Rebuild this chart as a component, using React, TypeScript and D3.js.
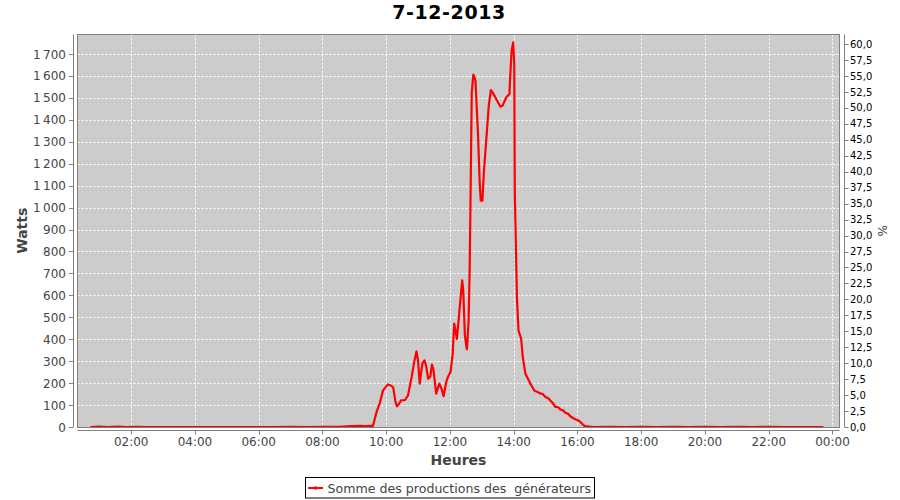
import React from "react";
import * as d3 from "d3";

const title = "7-12-2013";
const seriesName = "Somme des productions des  générateurs";
const xLabel = "Heures";
const yLabel = "Watts";
const y2Label = "%";

const times = [
  "00:43","01:00","01:15","01:35","01:50","02:10","02:30","03:00","03:30","04:00","04:30","05:00","05:30","06:00","06:30","07:00","07:30","08:00","08:30","08:55","09:10","09:20","09:30","09:35",
  "09:42","09:48","09:54","10:00","10:03","10:08","10:13","10:17","10:20","10:24","10:28","10:35","10:41","10:48","10:53","10:57","11:00","11:03","11:08","11:12","11:15","11:19","11:23","11:26","11:29","11:34","11:40","11:44","11:48","11:53","11:56",
  "12:01","12:05","12:08","12:13","12:16","12:20","12:23","12:25","12:28","12:31","12:32","12:35","12:37","12:38","12:41","12:44","12:46","12:48","12:53","12:56","12:58",
  "13:01","13:04","13:08","13:13","13:17","13:22","13:27","13:35","13:39","13:46","13:52","13:53","13:56","13:59",
  "14:01","14:02","14:05","14:06","14:09","14:14","14:17","14:22","14:31","14:39","14:44","14:50","14:55","14:59","15:05","15:08","15:15","15:18","15:24","15:27","15:34","15:37","15:43","15:46","15:52","15:56","16:02","16:05","16:11","16:14",
  "16:30","17:00","17:30","18:00","18:30","19:00","19:30","20:00","20:30","21:00","21:30","22:00","22:30","23:00","23:30","23:43"
];
const watts = [
  0,2,0,2,0,1,0,0,0,0,0,0,0,0,0,1,0,1,1,4,5,4,5,5,
  70,110,167,185,194,190,182,120,94,105,122,122,144,230,300,345,300,198,290,304,280,220,230,284,260,152,198,175,140,205,228,
  250,330,471,402,480,590,668,622,420,364,355,480,713,899,1526,1606,1595,1579,1321,1108,1032,
  1032,1169,1298,1465,1536,1518,1495,1460,1465,1503,1518,1579,1715,1753,
  1655,1070,713,592,440,402,319,243,199,165,161,153,150,138,131,123,105,92,90,81,74,65,59,50,40,35,29,24,9,4,
  0,1,0,1,0,1,0,1,0,1,0,1,0,0,0,0
];
const leftTicks = [0,100,200,300,400,500,600,700,800,900,1000,1100,1200,1300,1400,1500,1600,1700];
const rightTicks = [0,2.5,5,7.5,10,12.5,15,17.5,20,22.5,25,27.5,30,32.5,35,37.5,40,42.5,45,47.5,50,52.5,55,57.5,60];
const hourTicks = [2,4,6,8,10,12,14,16,18,20,22,24];

const toH = (s: string) => { const [h, m] = s.split(":").map(Number); return h + m / 60; };

export default function App() {
  const L = 77.5, R = 839.5, T = 34.5, B = 427;
  const x = d3.scaleLinear().domain([0.315, 24.22]).range([L, R]);
  const y = d3.scaleLinear().domain([0, 1789]).range([B, T]);
  const y2 = d3.scaleLinear().domain([0, 61.52]).range([B, T]);
  const data = times.map((t, i) => ({ h: toH(t), v: watts[i] }));
  const line = d3.line<{ h: number; v: number }>().x(d => x(d.h)).y(d => y(d.v));
  const fmtL = (v: number) => v >= 1000 ? `${Math.floor(v / 1000)}\u2009${String(v % 1000).padStart(3, "0")}` : String(v);
  const fmtR = (v: number) => v.toFixed(1).replace(".", ",");
  const fmtH = (h: number) => `${String(h % 24).padStart(2, "0")}:00`;
  const font = "'DejaVu Sans', sans-serif";
  const axisY = 430.5;
  return (
    <svg width={900} height={500} style={{ position: "absolute", left: 0, top: 0, background: "#fff" }} fontFamily={font}>
      <rect x={0} y={0} width={900} height={500} fill="#fff" />
      <text x={449} y={19} textAnchor="middle" fontSize={19} fontWeight="bold" letterSpacing={0.6} fill="#000">{title}</text>
      <rect x={L} y={T} width={R - L} height={B - T} fill="#cccccc" />
      <defs>
        <clipPath id="plotclip"><rect x={L} y={T} width={R - L} height={B - T} /></clipPath>
      </defs>
      {hourTicks.map(h => (
        <line key={"gv" + h} x1={Math.round(x(h)) + 0.5} x2={Math.round(x(h)) + 0.5} y1={T} y2={B} stroke="#fff" strokeWidth={1} strokeDasharray="2,2" />
      ))}
      {leftTicks.map(v => (
        <line key={"gh" + v} x1={L} x2={R} y1={Math.round(y(v)) + 0.5} y2={Math.round(y(v)) + 0.5} stroke="#fff" strokeWidth={1} strokeDasharray="2,2" />
      ))}
      <rect x={L} y={T} width={R - L} height={B - T + 0.5} fill="none" stroke="#808080" strokeWidth={1} />
      <path d={line(data) || ""} fill="none" stroke="#ff0000" strokeWidth={2.2} strokeLinejoin="round" clipPath="url(#plotclip)" />
      {/* left axis */}
      <line x1={73.5} x2={73.5} y1={T} y2={B} stroke="#808080" />
      {leftTicks.map(v => (
        <g key={"lt" + v}>
          <line x1={69} x2={73.5} y1={Math.round(y(v)) + 0.5} y2={Math.round(y(v)) + 0.5} stroke="#808080" />
          <text x={66} y={y(v) + 4.5} textAnchor="end" fontSize={12} fill="#444">{fmtL(v)}</text>
        </g>
      ))}
      <text transform={`translate(27,${(T + B) / 2}) rotate(-90)`} textAnchor="middle" fontSize={14} fontWeight="bold" fill="#444">{yLabel}</text>
      {/* right axis */}
      <line x1={844.5} x2={844.5} y1={T} y2={B} stroke="#808080" />
      {rightTicks.map(v => (
        <g key={"rt" + v}>
          <line x1={844.5} x2={848.5} y1={Math.round(y2(v)) + 0.5} y2={Math.round(y2(v)) + 0.5} stroke="#808080" />
          <text x={850} y={y2(v) + 3.5} textAnchor="start" fontSize={10} fill="#000">{fmtR(v)}</text>
        </g>
      ))}
      <text transform={`translate(878,${(T + B) / 2}) rotate(90)`} textAnchor="middle" fontSize={12} fill="#444">{y2Label}</text>
      {/* bottom axis */}
      <line x1={L} x2={R} y1={axisY} y2={axisY} stroke="#808080" />
      {hourTicks.map(h => (
        <g key={"bt" + h}>
          <line x1={Math.round(x(h)) + 0.5} x2={Math.round(x(h)) + 0.5} y1={axisY} y2={axisY + 4} stroke="#808080" />
          <text x={x(h)} y={446} textAnchor="middle" fontSize={12} fill="#444">{fmtH(h)}</text>
        </g>
      ))}
      <text x={(L + R) / 2} y={465} textAnchor="middle" fontSize={14} fontWeight="bold" fill="#444">{xLabel}</text>
      {/* legend */}
      <rect x={305.5} y={477.5} width={289} height={20.5} fill="#fff" stroke="#000" strokeWidth={1} />
      <line x1={308} x2={323} y1={488} y2={488} stroke="#ff0000" strokeWidth={2} />
      <rect x={314} y={486.5} width={3} height={3} fill="#ff0000" />
      <text x={327.5} y={492.5} fontSize={12.6} fill="#444" style={{ whiteSpace: "pre" }}>{seriesName}</text>
    </svg>
  );
}
